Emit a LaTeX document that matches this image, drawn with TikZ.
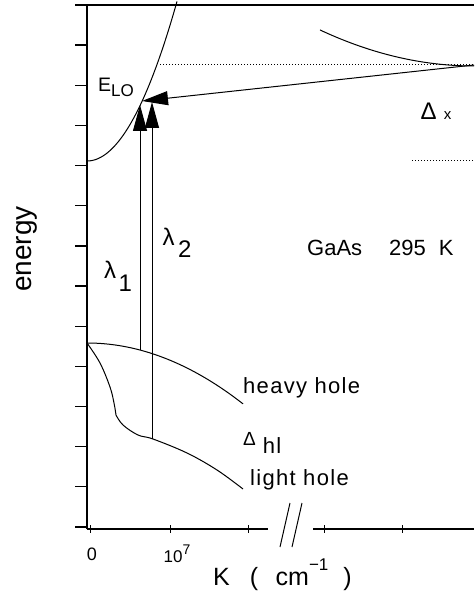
\documentclass[tikz,border=0pt]{standalone}
\usepackage{fontspec}
\setmainfont{Liberation Sans}
\newfontfamily\plotfont[LetterSpace=6]{Liberation Sans}
\usetikzlibrary{arrows.meta, positioning}

\begin{document}
\begin{tikzpicture}[
    x=1pt, y=-1pt,
    frame/.style={line width=1.3pt},
    band/.style={line width=1pt},
    level/.style={line width=1pt, dash pattern=on 1pt off 2pt},
    photon/.style={-{Triangle[length=26pt, width=14pt]}, line width=1pt},
    lbl/.style={inner sep=0pt, font=\plotfont\fontsize{22}{24}\selectfont},
    axlbl/.style={inner sep=0pt, font=\fontsize{28}{30}\selectfont}
]
    \useasboundingbox (0,0) rectangle (474,596);

    % axes
    \coordinate (topleft) at (87,5);
    \coordinate (topright) at (474,5);
    \coordinate (origin) at (87,529);
    \coordinate (breakl) at (268,529);
    \coordinate (breakr) at (313,529);
    \coordinate (axisend) at (474,529);
    \draw[frame] (origin) -- (topleft) -- (topright);
    \draw[frame] (origin) -- (breakl);
    \draw[frame] (breakr) -- (axisend);
    \foreach \t in {0,...,13}
        \draw[frame] (75,{5+40.15*\t}) -- (87,{5+40.15*\t});
    \foreach \k in {90,170,248,324,402}
        \draw[band] (\k,525) -- (\k,533);
    \draw[band] (290,503) -- (280,547);
    \draw[band] (302,503) -- (292,547);

    % bands
    \draw[band] plot[domain=87:177, samples=60] (\x,{161-1.97*((\x-87)/10)^2});
    \draw[band] plot[domain=320:474, samples=60] (\x,{66-0.152*((474-\x)/10)^2});
    \draw[band] plot[domain=87:243, samples=60] (\x,{343+0.25*((\x-87)/10)^2});
    \draw[band] plot[smooth, tension=0.6] coordinates {(87,343) (100,363) (110,387) (114,403) (116,415)};
    \draw[band] plot[smooth, tension=0.6] coordinates {(116,415) (123,425) (138,435) (153,439) (187,453) (217,470) (243,489)};

    % levels
    \coordinate (xmin) at (474,65);
    \coordinate (lvlx) at (160,65);
    \coordinate (lvld) at (412,161);
    \coordinate (lvldend) at (474,161);
    \draw[level] (lvlx) -- (xmin);
    \draw[level] (lvld) -- (lvldend);

    % transitions
    \coordinate (hh1) at (140,350);
    \coordinate (cb1) at (140,105);
    \coordinate (lh2) at (152,439);
    \coordinate (cb2) at (152,102);
    \coordinate (cb0) at (142,101);
    \draw[photon] (hh1) -- (cb1);
    \draw[photon] (lh2) -- (cb2);
    \draw[photon] (xmin) -- (cb0);

    % labels
    \node[lbl, anchor=base west, font=\fontsize{19.5}{21}\selectfont] (elo) at (98,92) {E\raisebox{-5pt}{\fontsize{17}{19}\selectfont LO}};
    \node[lbl, font=\fontsize{24}{26}\selectfont] (lam1) at (118,276) {λ\hspace{0.1em}\raisebox{-0.55em}{1}};
    \node[lbl, font=\fontsize{24}{26}\selectfont] (lam2) at (177,243) {λ\hspace{0.15em}\raisebox{-0.5em}{2}};
    \node[lbl, font=\fontsize{24}{26}\selectfont] (deltax) at (436,111) {Δ\hspace{0.3em}{\fontsize{15}{17}\selectfont x}};
    \node[lbl, anchor=base west, font=\fontsize{22}{24}\selectfont] (gaas) at (307,255) {GaAs\hspace{27pt}295\hspace{13pt}K};
    \node[lbl, anchor=base west] (heavy) at (243,393) {heavy hole};
    \node[lbl, anchor=base west] (deltahl) at (243,453) {\raisebox{8pt}{\fontsize{19}{21}\selectfont Δ}\hspace{7pt}hl};
    \node[lbl, anchor=base west] (light) at (250,485) {light hole};
    \node[lbl, font=\fontsize{18}{20}\selectfont] (zero) at (92,554) {0};
    \node[lbl, font=\fontsize{17}{19}\selectfont] (tenseven) at (177,554) {10\raisebox{0.5em}{\fontsize{14}{16}\selectfont 7}};
    \node[axlbl, anchor=base west, font=\fontsize{25}{27}\selectfont] (kaxis) at (213,585) {K\hspace{0.8em}(\hspace{0.7em}cm\raisebox{0.6em}{\fontsize{17}{19}\selectfont −1}\hspace{0.6em})};
    \node[axlbl, rotate=90] (energy) at (27,249) {energy};
\end{tikzpicture}
\end{document}
